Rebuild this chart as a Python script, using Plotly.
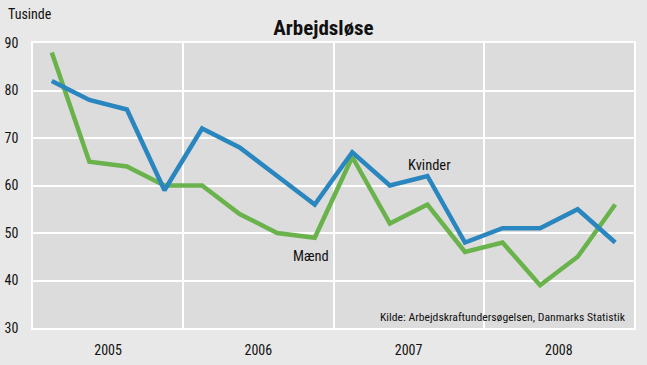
import plotly.graph_objects as go

quarters = list(range(16))  # 2005Q1 .. 2008Q4
years = ["2005", "2006", "2007", "2008"]
year_centers = [1.5, 5.5, 9.5, 13.5]
year_bounds = [3.5, 7.5, 11.5]
kvinder = [82, 78, 76, 59, 72, 68, 62, 56, 67, 60, 62, 48, 51, 51, 55, 48]
maend = [88, 65, 64, 60, 60, 54, 50, 49, 66, 52, 56, 46, 48, 39, 45, 56]

FONT = "Liberation Sans Narrow, Arial Narrow, Roboto Condensed, sans-serif"
BLUE = "#2a86bf"
GREEN = "#6ab34c"

fig = go.Figure()
fig.add_trace(go.Scatter(x=quarters, y=maend, mode="lines", name="Mænd",
                         line=dict(color=GREEN, width=4.5)))
fig.add_trace(go.Scatter(x=quarters, y=kvinder, mode="lines", name="Kvinder",
                         line=dict(color=BLUE, width=4.5)))

fig.update_layout(
    width=647, height=365,
    paper_bgcolor="#e8e8e8", plot_bgcolor="#dcdcdc",
    margin=dict(l=33, r=13, t=43, b=37, autoexpand=False),
    showlegend=False,
    font=dict(family=FONT, size=14, color="#111111"),
    title=dict(text="<b>Arbejdsløse</b>", x=0.5, xanchor="center", y=0.925, yanchor="middle",
               font=dict(family=FONT, size=21, color="#111111")),
    xaxis=dict(range=[-0.5, 15.5], tickvals=year_centers, ticktext=years, automargin=False,
               showgrid=False, zeroline=False, showline=True, linecolor="white", linewidth=1.5,
               mirror=True, ticks="outside", ticklen=8, tickcolor="rgba(0,0,0,0)",
               tickfont=dict(size=14),
               minor=dict(tickvals=year_bounds, showgrid=True, gridcolor="white", gridwidth=1.5)),
    yaxis=dict(range=[30, 90], dtick=10, tick0=30, showgrid=True, gridcolor="white", gridwidth=1.5,
               automargin=False,
               zeroline=False, showline=True, linecolor="white", linewidth=1.5, mirror=True,
               ticks="outside", ticklen=10, tickcolor="rgba(0,0,0,0)", tickfont=dict(size=14)),
    annotations=[
        dict(text="Tusinde", xref="paper", yref="paper", x=-0.045, y=1.065, xanchor="left",
             yanchor="bottom", showarrow=False, font=dict(size=14)),
        dict(text="Kvinder", xref="x", yref="y", x=10.05, y=62.0, xanchor="center",
             yanchor="bottom", showarrow=False, font=dict(size=14.5)),
        dict(text="Mænd", xref="x", yref="y", x=6.9, y=47.3, xanchor="center",
             yanchor="top", showarrow=False, font=dict(size=14.5)),
        dict(text="Kilde: Arbejdskraftundersøgelsen, Danmarks Statistik", xref="paper", yref="paper",
             x=0.99, y=0.04, xanchor="right", yanchor="middle", showarrow=False,
             font=dict(size=11.7)),
    ],
)

fig.write_html("out.html", config={"displayModeBar": False},
               post_script="document.body.style.margin='0';")
